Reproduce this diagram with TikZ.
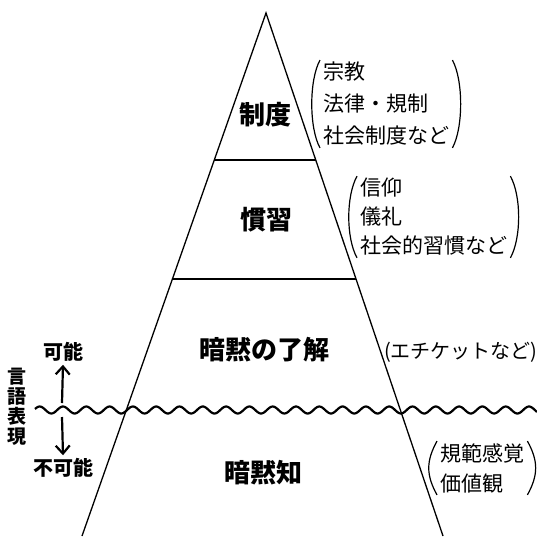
\documentclass[tikz,border=0pt]{standalone}
\usepackage{fontspec}
\newfontfamily\jp{Noto Sans CJK JP}
\usetikzlibrary{calc,arrows.meta}
\begin{document}
\begin{tikzpicture}[x=1pt,y=-1pt,
  edge/.style={line width=1.3pt},
  tier/.style={line width=1.7pt},
  mainlabel/.style={font=\jp\bfseries\fontsize{26}{30}\selectfont, inner sep=0pt},
  note/.style={font=\jp\fontsize{21}{32}\selectfont, align=left, inner sep=0pt, anchor=west},
  sidelabel/.style={font=\jp\bfseries\fontsize{20}{20}\selectfont, inner sep=3pt},
  paren/.style={line width=1.2pt},
  updown/.style={line width=2.2pt, -{Straight Barb[length=8pt,width=14pt]}}
]
\useasboundingbox (0,0) rectangle (537,536);
% pyramid
\coordinate (apex) at (266,13);
\coordinate (bl) at (82,536);
\coordinate (br) at (443,536);
\draw[edge] (bl) -- (apex) -- (br);
\draw[tier] ($(apex)!0.281!(bl)$) -- ($(apex)!0.281!(br)$);
\draw[tier] ($(apex)!0.5086!(bl)$) -- ($(apex)!0.5086!(br)$);
% wave
\draw[line width=2.2pt, domain=35:537, samples=400, smooth] plot (\x, {410-3.5*cos(15.45*(\x-63))});
% main labels
\node[mainlabel] (seido) at (265,115) {制度};
\node[mainlabel] (kanshu) at (266,220) {慣習};
\node[mainlabel] (ryokai) at (264,350) {暗黙の了解};
\node[mainlabel] (anmoku) at (263,473) {暗黙知};
% notes
\node[note] (g1) at (323,104) {宗教\\法律・規制\\社会制度など};
\node[note, font=\jp\fontsize{21}{29}\selectfont] (g2) at (360,217) {信仰\\儀礼\\社会的習慣など};
\node[note, font=\jp\fontsize{20}{24}\selectfont] (g3) at (384,352) {(エチケットなど)};
\node[note, font=\jp\fontsize{21}{30}\selectfont] (g4) at (440,468) {規範感覚\\価値観};
% parentheses
\foreach \g in {g1,g2,g4}{
  \draw[paren] ($(\g.north west)+(-3,-2)$) .. controls +(-11,20) and +(-11,-20) .. ($(\g.south west)+(-3,2)$);
  \draw[paren] ($(\g.north east)+(3,-2)$) .. controls +(11,20) and +(11,-20) .. ($(\g.south east)+(3,2)$);
}
% left side
\node[sidelabel] (kanou) at (63,352) {可能};
\node[sidelabel] (fukanou) at (63,468) {不可能};
\node[font=\jp\bfseries\fontsize{19}{20}\selectfont, align=center, inner sep=0pt] (gengo) at (17,407) {言\\語\\表\\現};
\coordinate (upstart) at (62,403);
\coordinate (downstart) at (62,417);
\draw[updown] (upstart) -- (kanou.south);
\draw[updown] (downstart) -- (fukanou.north);
\end{tikzpicture}
\end{document}
